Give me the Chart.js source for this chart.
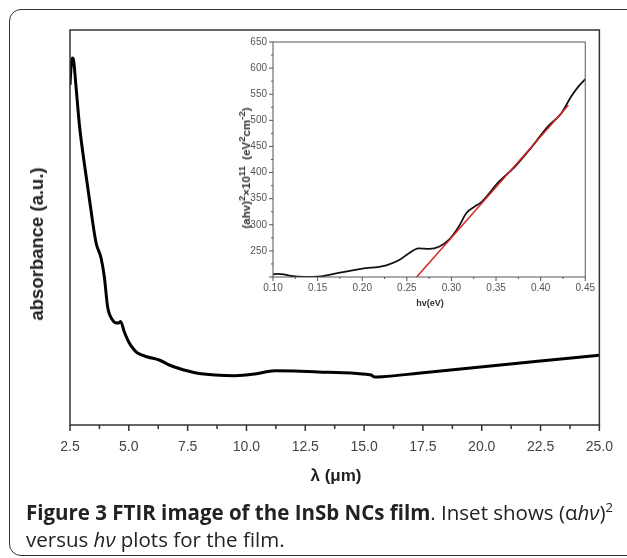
<!DOCTYPE html>
<html lang="en">
<head>
    <meta charset="UTF-8">
    <title>FTIR InSb NCs film</title>
    <script src="https://cdn.jsdelivr.net/npm/chart.js@4.4.0/dist/chart.umd.min.js"></script>
    <style>
        body {
            margin: 0;
            width: 627px;
            height: 558px;
            overflow: hidden;
            background: #fff;
            position: relative;
            font-family: Arial, 'Liberation Sans', sans-serif;
        }
        .frame {
            position: absolute;
            left: 9px;
            top: 9px;
            width: 650px;
            height: 545px;
            border: 1.5px solid #333;
            border-radius: 12px;
        }
        canvas { position: absolute; }
        #mainChart { left: 0; top: 0; }
        #insetChart { left: 228px; top: 30px; }
        .label {
            position: absolute;
            white-space: nowrap;
            color: #222;
            font-weight: bold;
            transform: translate(-50%, -50%);
        }
        .rot { transform: translate(-50%, -50%) rotate(-90deg); }
        .caption {
            position: absolute;
            left: 26px;
            top: 499px;
            font-family: 'Open Sans', sans-serif;
            font-size: 20.5px;
            line-height: 27px;
            color: #222;
            white-space: nowrap;
        }
        .caption b { font-weight: 700; }
        .caption sup { font-size: 13px; line-height: 0; }
        sup { line-height: 0; }
    </style>
</head>
<body>
    <div class="frame"></div>
    <canvas id="mainChart" width="627" height="500"></canvas>
    <canvas id="insetChart" width="372" height="290"></canvas>

    <div class="label rot" style="left:37px; top:244px; font-size:18.5px;">absorbance (a.u.)</div>
    <div class="label" style="left:336px; top:476px; font-size:17px;">&lambda; (&mu;m)</div>
    <div class="label rot" style="left:246px; top:168px; font-size:11.5px; color:#333;">(ahv)<sup>2</sup>&times;10<sup>11</sup>&nbsp; (eV<sup>2</sup>cm<sup>-2</sup>)</div>
    <div class="label" style="left:430px; top:303px; font-size:9px; color:#333;">hv(eV)</div>

    <div class="caption">
        <b>Figure 3 FTIR image of the InSb NCs film</b>. Inset shows (&alpha;<i>h&nu;</i>)<sup>2</sup><br>
        versus <i>h&nu;</i> plots for the film.
    </div>

    <script>
        // --- main FTIR spectrum ---
        const wavelength = [2.5, 2.55, 2.6, 2.65, 2.75, 2.9, 3.1, 3.33, 3.61, 3.82, 3.96, 4.10, 4.31, 4.48, 4.57, 4.65, 4.81,
            5.02, 5.2, 5.37, 5.8, 6.29, 6.72, 7.14, 7.82, 8.66, 9.51, 10.36, 11.2, 12.05, 13.06, 14.08, 15.1,
            15.3, 15.45, 15.77, 17.3, 19.84, 22.38, 25.0];
        const absorbance = [3.40, 3.60, 3.67, 3.65, 3.40, 3.00, 2.63, 2.25, 1.82, 1.67, 1.48, 1.18, 1.05, 1.02, 1.02, 1.035, 0.93,
            0.82, 0.76, 0.72, 0.68, 0.65, 0.60, 0.565, 0.523, 0.50, 0.493, 0.51, 0.543, 0.54, 0.53, 0.523, 0.507,
            0.50, 0.48, 0.483, 0.517, 0.577, 0.637, 0.697];
        const wavelengthTicks = [2.5, 5.0, 7.5, 10.0, 12.5, 15.0, 17.5, 20.0, 22.5, 25.0];

        // --- inset: (ahv)^2 vs hv ---
        const photonEnergy = [0.100, 0.105, 0.112, 0.120, 0.135, 0.150, 0.163, 0.180, 0.200, 0.226, 0.241, 0.252, 0.263,
            0.275, 0.286, 0.297, 0.308, 0.317, 0.327, 0.334, 0.353, 0.371, 0.390, 0.408, 0.423, 0.434, 0.442, 0.450];
        const alphaHvSquared = [205, 206, 205, 202, 200, 200.5, 204, 210, 216, 222, 232, 245, 255,
            254, 258, 271, 296, 323, 336, 344, 382, 411, 449, 488, 513, 545, 564, 579];
        const fitEnergy = [0.261, 0.431];
        const fitValue = [200, 529];
        const energyTicks = [0.10, 0.15, 0.20, 0.25, 0.30, 0.35, 0.40, 0.45];
        const insetYTicks = [200, 250, 300, 350, 400, 450, 500, 550, 600, 650];

        // box around the plot area + outward major/minor ticks
        function boxTicksPlugin(cfg) {
            return {
                id: 'boxTicks',
                afterDraw(chart) {
                    const ctx = chart.ctx;
                    const a = chart.chartArea;
                    ctx.save();
                    ctx.strokeStyle = cfg.color;
                    ctx.lineWidth = cfg.width;
                    ctx.strokeRect(a.left, a.top, a.right - a.left, a.bottom - a.top);
                    ctx.beginPath();
                    const xs = chart.scales.x;
                    const xt = xs.ticks.map(t => t.value);
                    xt.forEach((v, i) => {
                        let px = xs.getPixelForValue(v);
                        ctx.moveTo(px, a.bottom);
                        ctx.lineTo(px, a.bottom + cfg.major);
                        if (i < xt.length - 1) {
                            px = xs.getPixelForValue((v + xt[i + 1]) / 2);
                            ctx.moveTo(px, a.bottom);
                            ctx.lineTo(px, a.bottom + cfg.minor);
                        }
                    });
                    if (cfg.yTicks) {
                        const ys = chart.scales.y;
                        const yt = ys.ticks.map(t => t.value);
                        yt.forEach((v, i) => {
                            let py = ys.getPixelForValue(v);
                            ctx.moveTo(a.left, py);
                            ctx.lineTo(a.left - cfg.major, py);
                            if (i < yt.length - 1) {
                                py = ys.getPixelForValue((v + yt[i + 1]) / 2);
                                ctx.moveTo(a.left, py);
                                ctx.lineTo(a.left - cfg.minor, py);
                            }
                        });
                    }
                    ctx.stroke();
                    ctx.restore();
                }
            };
        }

        Chart.defaults.font.family = "Arial, 'Liberation Sans', sans-serif";

        new Chart(document.getElementById('mainChart'), {
            type: 'line',
            data: {
                datasets: [{
                    data: wavelength.map((w, i) => ({ x: w, y: absorbance[i] })),
                    borderColor: '#000',
                    borderWidth: 3,
                    pointRadius: 0,
                    cubicInterpolationMode: 'monotone'
                }]
            },
            options: {
                responsive: false,
                animation: false,
                layout: { padding: { left: 70, right: 25, top: 30, bottom: 35 } },
                plugins: { legend: { display: false }, tooltip: { enabled: false } },
                scales: {
                    x: {
                        type: 'linear',
                        min: 2.5,
                        max: 25,
                        afterBuildTicks: s => { s.ticks = wavelengthTicks.map(v => ({ value: v })); },
                        afterFit: s => { s.height = 40; },
                        grid: { display: false, drawTicks: false },
                        border: { display: false },
                        ticks: {
                            padding: 14,
                            color: '#444',
                            font: { size: 14 },
                            maxRotation: 0,
                            callback: v => Number(v).toFixed(1)
                        }
                    },
                    y: { display: false, min: 0, max: 3.95 }
                }
            },
            plugins: [boxTicksPlugin({ color: '#333', width: 1.5, major: 6, minor: 4, yTicks: false })]
        });

        new Chart(document.getElementById('insetChart'), {
            type: 'line',
            data: {
                datasets: [{
                    data: photonEnergy.map((e, i) => ({ x: e, y: alphaHvSquared[i] })),
                    borderColor: '#111',
                    borderWidth: 1.8,
                    pointRadius: 0,
                    cubicInterpolationMode: 'monotone',
                    order: 2
                }, {
                    data: fitEnergy.map((e, i) => ({ x: e, y: fitValue[i] })),
                    borderColor: '#d8252a',
                    borderWidth: 1.5,
                    pointRadius: 0,
                    order: 1
                }]
            },
            options: {
                responsive: false,
                animation: false,
                layout: { padding: { left: 0, right: 13, top: 12, bottom: 23 } },
                plugins: { legend: { display: false }, tooltip: { enabled: false } },
                scales: {
                    x: {
                        type: 'linear',
                        min: 0.1,
                        max: 0.45,
                        afterBuildTicks: s => { s.ticks = energyTicks.map(v => ({ value: v })); },
                        afterFit: s => { s.height = 20; },
                        grid: { display: false, drawTicks: false },
                        border: { display: false },
                        ticks: {
                            padding: 5,
                            color: '#555',
                            font: { size: 10 },
                            maxRotation: 0,
                            callback: v => Number(v).toFixed(2)
                        }
                    },
                    y: {
                        min: 200,
                        max: 650,
                        afterBuildTicks: s => { s.ticks = insetYTicks.map(v => ({ value: v })); },
                        afterFit: s => { s.width = 45; },
                        grid: { display: false, drawTicks: false },
                        border: { display: false },
                        ticks: {
                            padding: 6,
                            color: '#555',
                            font: { size: 10 },
                            callback: v => (v === 200 ? '' : String(v))
                        }
                    }
                }
            },
            plugins: [boxTicksPlugin({ color: '#555', width: 1, major: 4, minor: 2, yTicks: true })]
        });
    </script>
</body>
</html>
